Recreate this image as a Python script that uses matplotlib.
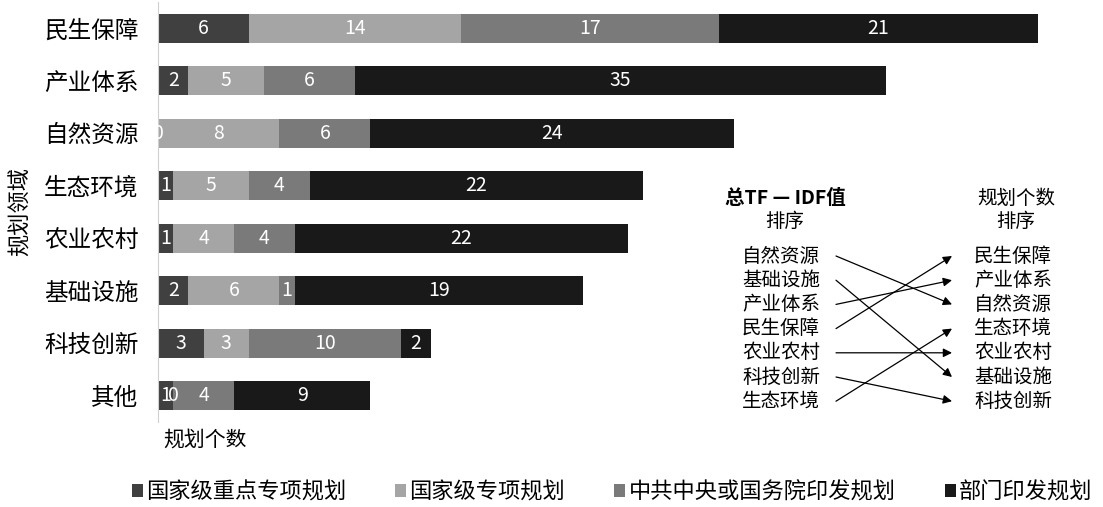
import matplotlib
matplotlib.use('Agg')
import matplotlib.pyplot as plt
import numpy as np

plt.rcParams['font.family'] = ['Noto Sans CJK SC', 'DejaVu Sans']

categories = ['民生保障', '产业体系', '自然资源', '生态环境', '农业农村', '基础设施', '科技创新', '其他']
series_names = ['国家级重点专项规划', '国家级专项规划', '中共中央或国务院印发规划', '部门印发规划']
key_national = [6, 2, 0, 1, 1, 2, 3, 1]
national = [14, 5, 8, 5, 4, 6, 3, 0]
central = [17, 6, 6, 4, 4, 1, 10, 4]
department = [21, 35, 24, 22, 22, 19, 2, 9]
colors = ['#404040', '#a5a5a5', '#7a7a7a', '#191919']

tfidf_order = ['自然资源', '基础设施', '产业体系', '民生保障', '农业农村', '科技创新', '生态环境']
count_order = ['民生保障', '产业体系', '自然资源', '生态环境', '农业农村', '基础设施', '科技创新']


def main():
    fig = plt.figure(figsize=(11.03, 5.07), dpi=100)
    W, H = 1103, 507
    ax = fig.add_axes([158 / W, 1 - 422 / H, (1095 - 158) / W, 420 / H])

    y = np.arange(len(categories))
    left = np.zeros(len(categories))
    for name, vals, c in zip(series_names, [key_national, national, central, department], colors):
        vals = np.array(vals, dtype=float)
        ax.barh(y, vals, left=left, height=0.56, color=c, label=name)
        for yi, l, v in zip(y, left, vals):
            ax.text(l + v / 2, yi, str(int(v)), color='white', ha='center', va='center', fontsize=14)
        left += vals

    ax.set_ylim(len(categories) - 0.5, -0.5)
    ax.set_xlim(0, 937 / 15.17)
    ax.set_yticks(y)
    ax.set_yticklabels(categories, fontsize=17)
    ax.tick_params(axis='y', length=0, pad=14)
    ax.set_xticks([])
    for s in ['top', 'right', 'bottom']:
        ax.spines[s].set_visible(False)
    ax.spines['left'].set_color('#d0d0d0')

    fig.text(20 / W, 1 - 212 / H, '规划领域', rotation=90, ha='center', va='center', fontsize=16)
    fig.text(163 / W, 1 - 440 / H, '规划个数', ha='left', va='center', fontsize=15)

    # ranking comparison inset
    fs = 14
    fig.text(785 / W, 1 - 198 / H, '总TF — IDF值', ha='center', va='center', fontsize=fs, fontweight='bold')
    fig.text(785 / W, 1 - 221 / H, '排序', ha='center', va='center', fontsize=fs)
    fig.text(1016 / W, 1 - 198 / H, '规划个数', ha='center', va='center', fontsize=fs)
    fig.text(1016 / W, 1 - 221 / H, '排序', ha='center', va='center', fontsize=fs)
    row_y = [256 + i * 24.2 for i in range(len(tfidf_order))]
    for i, name in enumerate(tfidf_order):
        fig.text(781 / W, 1 - row_y[i] / H, name, ha='center', va='center', fontsize=fs)
    for i, name in enumerate(count_order):
        fig.text(1013 / W, 1 - row_y[i] / H, name, ha='center', va='center', fontsize=fs)
    for i, name in enumerate(tfidf_order):
        j = count_order.index(name)
        fig.add_artist(matplotlib.patches.FancyArrowPatch(
            (836 / W, 1 - row_y[i] / H), (952 / W, 1 - row_y[j] / H),
            transform=fig.transFigure, arrowstyle='-|>', mutation_scale=13,
            color='black', lw=0.9, shrinkA=0, shrinkB=0))

    handles, labels = ax.get_legend_handles_labels()
    fig.legend(handles, labels, loc='center', bbox_to_anchor=(612 / W, 1 - 492 / H), ncol=4,
               frameon=False, fontsize=16, handlelength=0.5, handleheight=0.5,
               handletextpad=0.15, columnspacing=2.2)

    fig.savefig('out.png', dpi=100)


if __name__ == "__main__":
    main()
